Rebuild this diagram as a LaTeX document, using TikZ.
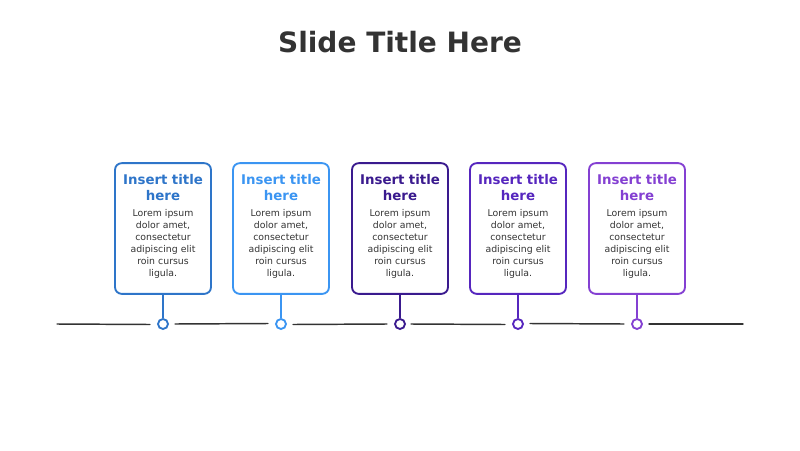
\documentclass[tikz,border=0pt]{standalone}
\usepackage{fontspec}
\setmainfont{DejaVu Sans}
\definecolor{cA}{HTML}{2E75C9}
\definecolor{cB}{HTML}{3B95F2}
\definecolor{cC}{HTML}{3A1A8E}
\definecolor{cD}{HTML}{5626BE}
\definecolor{cE}{HTML}{8440D2}
\definecolor{txt}{HTML}{333333}
\tikzset{
 card/.style={draw=#1, line width=1.4pt, rounded corners=5pt, minimum width=72pt, minimum height=98pt, inner sep=0pt},
 dot/.style={draw=#1, line width=1.4pt, circle, minimum size=7.5pt, inner sep=0pt},
 tl/.style={text=#1, font=\bfseries\fontsize{10}{12}\selectfont, align=center, text width=72pt},
 bd/.style={text=txt, font=\fontsize{7}{8.9}\selectfont, align=center, text width=72pt},
 seg/.style={draw=txt, line width=1.1pt, line cap=round},
}
\begin{document}
\begin{tikzpicture}[x=0.75pt,y=-0.75pt]
\useasboundingbox (0,0) rectangle (800,450);
\node[text=txt, font=\bfseries\fontsize{21}{24}\selectfont] (title) at (400,42) {Slide Title Here};
\foreach \i/\x/\c in {1/163/cA,2/281/cB,3/400/cC,4/518/cD,5/637/cE}{
  \node[card=\c] (b\i) at (\x,228.5) {};
  \node[tl=\c, anchor=north] (t\i) at (\x,170) {Insert title\\here};
  \node[bd, anchor=north] (d\i) at (\x,205) {Lorem ipsum\\dolor amet,\\consectetur\\adipiscing elit\\roin cursus\\ligula.};
  \node[dot=\c] (c\i) at (\x,324) {};
  \draw[draw=\c, line width=1.4pt] (b\i.south) -- (c\i.north);
}
\coordinate (L) at (57,324);
\coordinate (R) at (743,324);
\draw[seg] (L) -- (150,324.5);
\draw[seg] (175,324) -- (268,323.5);
\draw[seg] (293,324.5) -- (387,324);
\draw[seg] (411,324) -- (505,324.5);
\draw[seg] (530,323.5) -- (624,324);
\draw[seg] (649,324) -- (R);
\end{tikzpicture}
\end{document}
